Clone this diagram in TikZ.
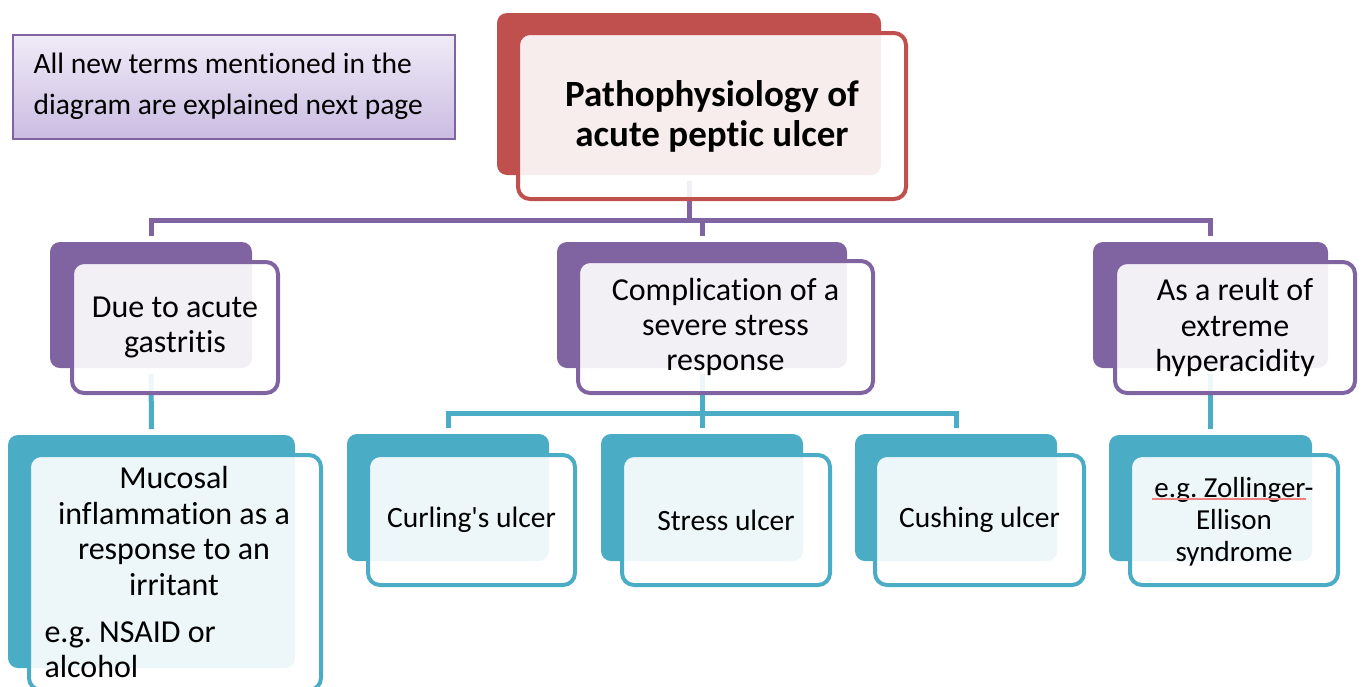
\documentclass[tikz,border=0pt]{standalone}
\usepackage{fontspec}
\setmainfont{Carlito}[Ligatures={TeX,NoCommon}]
\usetikzlibrary{calc}
\definecolor{cred}{HTML}{C0504D}
\definecolor{cpur}{HTML}{8064A2}
\definecolor{cteal}{HTML}{4BACC6}
\definecolor{notetop}{HTML}{EFEBF7}
\definecolor{notebot}{HTML}{CBBCE2}
\definecolor{squig}{HTML}{EE8080}
\begin{document}
\frenchspacing
\begin{tikzpicture}[x=1pt,y=-1pt,
  backbox/.style={rectangle, rounded corners=10pt, fill=#1, draw=none, inner sep=0pt, outer sep=0pt},
  frontbox/.style={rectangle, rounded corners=12pt, draw=#1, line width=4pt, fill=white, fill opacity=0.9, text opacity=1, draw opacity=1, inner sep=0pt, outer sep=0pt, align=center},
  pconn/.style={draw=cpur, line width=5pt, shorten <=6pt, shorten >=6pt},
  tconn/.style={draw=cteal, line width=5pt, shorten <=6pt, shorten >=6pt},
  lvlone/.style={font=\fontsize{32}{35.4}\selectfont},
  lvltwo/.style={font=\fontsize{29.5}{35.4}\selectfont},
  mucfont/.style={font=\fontsize{32}{35.4}\selectfont},
  titlefont/.style={font=\fontsize{37}{40}\selectfont\bfseries},
  notestyle/.style={rectangle, draw=cpur, line width=1.5pt, top color=notetop, bottom color=notebot, inner sep=0pt, outer sep=0pt, minimum width=442pt, minimum height=104pt}
]
\useasboundingbox (0,0) rectangle (1362,686);

% note
\node[notestyle] (note) at (234,87) {};
\node[anchor=west, align=left, font=\fontsize{29.5}{41}\selectfont] (notetext) at (30,86)
  {All new terms mentioned in the\\diagram are explained next page};

% back boxes
\node[backbox=cred, minimum width=384pt, minimum height=162pt] (rootb) at (689,94) {};
\node[backbox=cpur, minimum width=202pt, minimum height=126pt] (gb) at (151,305) {};
\node[backbox=cpur, minimum width=290pt, minimum height=126pt] (sb) at (702,305) {};
\node[backbox=cpur, minimum width=235pt, minimum height=126pt] (hb) at (1210.5,305) {};
\node[backbox=cteal, minimum width=287pt, minimum height=233pt] (mb) at (151.5,551.5) {};
\node[backbox=cteal, minimum width=202pt, minimum height=127pt] (cb) at (448,497.5) {};
\node[backbox=cteal, minimum width=202pt, minimum height=127pt] (stb) at (702,497.5) {};
\node[backbox=cteal, minimum width=202pt, minimum height=127pt] (cub) at (956,497.5) {};
\node[backbox=cteal, minimum width=203pt, minimum height=126pt] (zb) at (1210.5,498) {};

% connectors
\coordinate (bus1) at (689,220);
\coordinate (bus2) at (702,413);
\draw[pconn] (rootb.south) |- (gb.north |- bus1) -- (gb.north);
\draw[pconn] (rootb.south) |- (sb.north |- bus1) -- (sb.north);
\draw[pconn] (rootb.south) |- (hb.north |- bus1) -- (hb.north);
\draw[tconn] (gb.south) -- (mb.north);
\draw[tconn] (sb.south) |- (cb.north |- bus2) -- (cb.north);
\draw[tconn] (sb.south) -- (stb.north);
\draw[tconn] (sb.south) |- (cub.north |- bus2) -- (cub.north);
\draw[tconn] (hb.south) -- (zb.north);

% front boxes
\node[frontbox=cred, minimum width=388pt, minimum height=166pt, titlefont] (root) at (712,116)
  {Pathophysiology of\\acute peptic ulcer};
\node[frontbox=cpur, minimum width=206pt, minimum height=131pt, lvlone] (g) at (175,327.5)
  {Due to acute\\gastritis};
\node[frontbox=cpur, minimum width=295pt, minimum height=132pt, lvlone] (s) at (725.5,327)
  {Complication of a\\severe stress\\response};
\node[frontbox=cpur, minimum width=240pt, minimum height=131pt, lvlone] (h) at (1235,327.5)
  {As a reult of\\extreme\\hyperacidity};
\node[frontbox=cteal, minimum width=292pt, minimum height=235pt] (m) at (175,572.5) {};
\node[frontbox=cteal, minimum width=207pt, minimum height=130pt, lvltwo] (c) at (471.5,520)
  {Curling\textquotesingle s ulcer};
\node[frontbox=cteal, minimum width=208pt, minimum height=130pt, lvltwo] (st) at (726,520)
  {Stress ulcer};
\node[frontbox=cteal, minimum width=209pt, minimum height=130pt, lvltwo] (cu) at (979.5,520)
  {Cushing ulcer};
\node[frontbox=cteal, minimum width=208pt, minimum height=130pt] (z) at (1234,520) {};
\node[align=center, font=\fontsize{29}{32}\selectfont] (ztext) at (1234,522)
  {e.g. Zollinger-\\Ellison\\syndrome};

% texts in the mucosal box
\node[align=center, mucfont] (mtext) at (174,531)
  {Mucosal\\inflammation as a\\response to an\\irritant};
\node[anchor=west, align=left, mucfont] (mex) at (41,650)
  {e.g. NSAID or\\alcohol};

% spell-check underline
\draw[draw=squig, line width=1.4pt] (1152,499) -- (1306,499);
\end{tikzpicture}
\end{document}
